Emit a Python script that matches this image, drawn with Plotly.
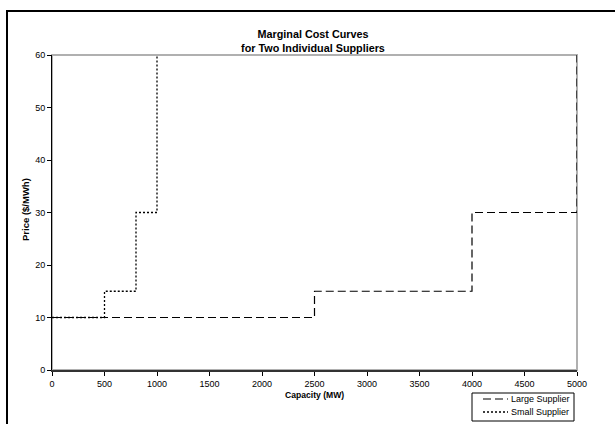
import plotly.graph_objects as go

# Data
large_capacity = [0, 2500, 2500, 4000, 4000, 5000, 5000]
large_price = [10, 10, 15, 15, 30, 30, 60]
small_capacity = [0, 500, 500, 800, 800, 1000, 1000]
small_price = [10, 10, 15, 15, 30, 30, 60]
x_ticks = [0, 500, 1000, 1500, 2000, 2500, 3000, 3500, 4000, 4500, 5000]
y_ticks = [0, 10, 20, 30, 40, 50, 60]
series_names = ["Large Supplier", "Small Supplier"]

FONT = "Liberation Sans, Arial, sans-serif"
W, H = 615, 424
L, R, T, B = 52, 38, 55, 54
pw, ph = W - L - R, H - T - B

def px(x):
    return (x - L) / pw

def py(y):
    return (H - B - y) / ph

LARGE_DASH = "8px,4px"
SMALL_DASH = "2px,2px"

fig = go.Figure()
fig.add_trace(go.Scatter(x=large_capacity, y=large_price, mode="lines", name=series_names[0],
                         line=dict(color="black", width=1.2, dash=LARGE_DASH)))
fig.add_trace(go.Scatter(x=small_capacity, y=small_price, mode="lines", name=series_names[1],
                         line=dict(color="black", width=1.3, dash=SMALL_DASH)))

shapes = [
    dict(type="rect", xref="paper", yref="paper", x0=0, y0=0, x1=1, y1=1,
         line=dict(color="#b0b0b0", width=2), layer="below"),
    dict(type="path", xref="paper", yref="paper",
         path=f"M {px(7)},{py(430)} L {px(7)},{py(11)} L {px(620)},{py(11)}",
         line=dict(color="black", width=2)),
    # legend box
    dict(type="rect", xref="paper", yref="paper", x0=px(472), x1=px(574), y0=py(421), y1=py(393),
         line=dict(color="black", width=1), fillcolor="white"),
    dict(type="line", xref="paper", yref="paper", x0=px(483), x1=px(508), y0=py(399), y1=py(399),
         line=dict(color="black", width=1.2, dash=LARGE_DASH)),
    dict(type="line", xref="paper", yref="paper", x0=px(483), x1=px(508), y0=py(412), y1=py(412),
         line=dict(color="black", width=1.3, dash=SMALL_DASH)),
]

annotations = [
    dict(text="<b>Price ($/MWh)</b>", xref="paper", yref="paper", x=px(25), y=py(210),
         textangle=-90, showarrow=False, font=dict(size=9.5, family=FONT),
         xanchor="center", yanchor="middle"),
    dict(text="<b>Capacity (MW)</b>", xref="paper", yref="paper", x=px(314), y=py(395),
         showarrow=False, font=dict(size=8.6, family=FONT),
         xanchor="center", yanchor="middle"),
    dict(text=series_names[0], xref="paper", yref="paper", x=px(509), y=py(399),
         showarrow=False, font=dict(size=9, family=FONT), xanchor="left", yanchor="middle"),
    dict(text=series_names[1], xref="paper", yref="paper", x=px(509), y=py(412),
         showarrow=False, font=dict(size=9, family=FONT), xanchor="left", yanchor="middle"),
]

fig.update_layout(
    width=W, height=H,
    margin=dict(l=L, r=R, t=T, b=B, autoexpand=False),
    paper_bgcolor="white", plot_bgcolor="white",
    font=dict(family=FONT, size=9, color="black"),
    title=dict(text="<b>Marginal Cost Curves<br>for Two Individual Suppliers</b>",
               x=313 / W, xanchor="center", y=1 - 38 / H, yanchor="middle",
               font=dict(size=10.8, family=FONT)),
    showlegend=False,
    xaxis=dict(range=[0, 5000], tickvals=x_ticks, showgrid=False, zeroline=False,
               showline=True, linecolor="#333333", linewidth=1.5,
               ticks="outside", ticklen=4, tickcolor="black", tickfont=dict(size=9)),
    yaxis=dict(range=[0, 60], tickvals=y_ticks, showgrid=False, zeroline=False,
               showline=True, linecolor="black", linewidth=1,
               ticks="outside", ticklen=4, tickcolor="black", tickfont=dict(size=9)),
    shapes=shapes,
    annotations=annotations,
)

fig.write_html("out.html", config={"displayModeBar": False},
               post_script="document.body.style.margin='0';")
